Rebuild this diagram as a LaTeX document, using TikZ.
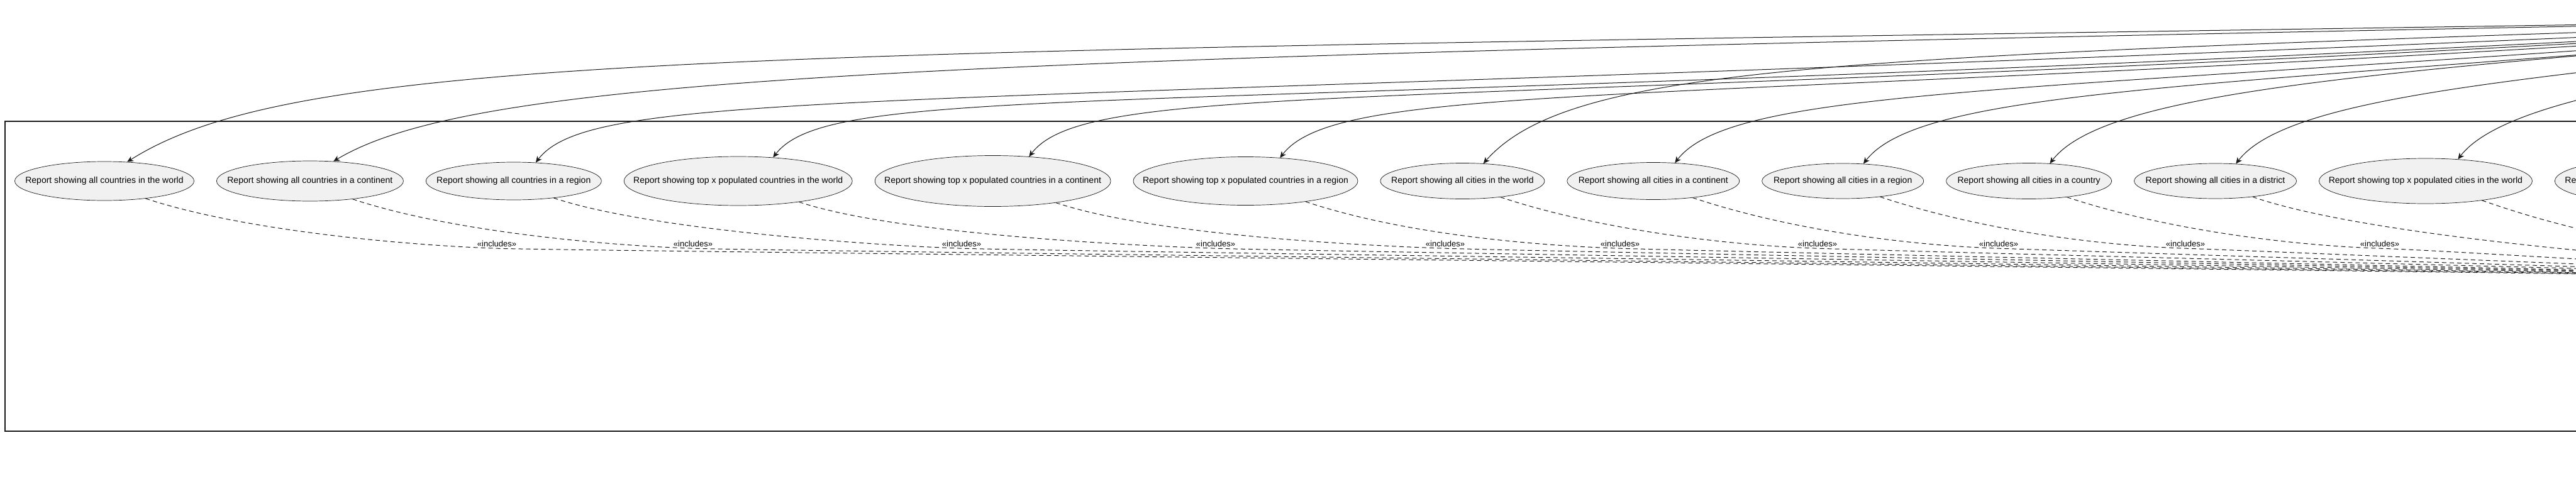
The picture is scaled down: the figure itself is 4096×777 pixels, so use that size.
\documentclass[tikz,border=0pt]{standalone}
\usepackage{fontspec}
\setmainfont{Liberation Sans}
\usetikzlibrary{calc,arrows.meta,positioning,shapes.geometric}
\definecolor{inkx}{HTML}{181818}
\definecolor{ucfill}{HTML}{F1F1F1}
\tikzset{
  uc/.style={ellipse,draw=inkx,line width=0.35pt,fill=ucfill,inner sep=0pt,font=\fontsize{7pt}{8pt}\selectfont},
  ar/.style={-{Stealth[length=5pt,width=4.5pt,inset=1.5pt]},line width=0.5pt,inkx},
  incl/.style={line width=0.5pt,inkx,dash pattern=on 3.5pt off 2.5pt},
  lbl/.style={font=\fontsize{6.5pt}{7.5pt}\selectfont,inner sep=1pt}
}
\newcommand{\ucbox}[1]{\makebox[0pt]{#1}}

\begin{document}
\begin{tikzpicture}[x=0.5pt,y=-0.5pt]
\clip (0,0) rectangle (4096,777);
% system boundary
\draw[line width=0.75pt,inkx] (4200,193) -- (8,193) -- (8,686) -- (4200,686);
\coordinate (user) at (4800,28);
\coordinate (incBase) at (5000,450);
% use cases
\node[uc,minimum width=142.5pt,minimum height=31pt] (cntWorld) at (166,288) {\ucbox{Report showing all countries in the world}};
\node[uc,minimum width=148.5pt,minimum height=32pt,right=17.6pt of cntWorld] (cntCont) {\ucbox{Report showing all countries in a continent}};
\node[uc,minimum width=139.5pt,minimum height=30pt,right=17.6pt of cntCont] (cntReg) {\ucbox{Report showing all countries in a region}};
\node[uc,minimum width=181.5pt,minimum height=39pt,right=17.6pt of cntReg] (topCntWorld) {\ucbox{Report showing top x populated countries in the world}};
\node[uc,minimum width=187.5pt,minimum height=40.5pt,right=17.6pt of topCntWorld] (topCntCont) {\ucbox{Report showing top x populated countries in a continent}};
\node[uc,minimum width=178.5pt,minimum height=38.5pt,right=17.6pt of topCntCont] (topCntReg) {\ucbox{Report showing top x populated countries in a region}};
\node[uc,minimum width=130.5pt,minimum height=28.5pt,right=17.6pt of topCntReg] (cityWorld) {\ucbox{Report showing all cities in the world}};
\node[uc,minimum width=137pt,minimum height=29.5pt,right=17.6pt of cityWorld] (cityCont) {\ucbox{Report showing all cities in a continent}};
\node[uc,minimum width=128.5pt,minimum height=28pt,right=17.6pt of cityCont] (cityReg) {\ucbox{Report showing all cities in a region}};
\node[uc,minimum width=131.5pt,minimum height=28.5pt,right=17.6pt of cityReg] (cityCountry) {\ucbox{Report showing all cities in a country}};
\node[uc,minimum width=129pt,minimum height=28pt,right=17.6pt of cityCountry] (cityDist) {\ucbox{Report showing all cities in a district}};
\node[uc,minimum width=169.5pt,minimum height=36pt,right=17.6pt of cityDist] (topCityWorld) {\ucbox{Report showing top x populated cities in the world}};
\node[uc,minimum width=176pt,minimum height=37pt,right=17.6pt of topCityWorld] (topCityCont) {\ucbox{Report showing top x populated cities in a continent}};
% actor links
\draw[ar] (user) .. controls (1303,87) and +(300,-190) .. (cntWorld.40);
\draw[ar] (user) .. controls (1629,90) and +(250,-150) .. (cntCont.40);
\draw[ar] (user) .. controls (1500,182) and +(100,-130) .. (cntReg.40);
\draw[ar] (user) .. controls (1877,195) and +(100,-130) .. (topCntWorld.34);
\draw[ar] (user) .. controls (2285,185) and +(100,-130) .. (topCntCont.34);
\draw[ar] (user) .. controls (2684,175) and +(100,-130) .. (topCntReg.34);
\draw[ar] (user) .. controls (3002,90) and +(150,-170) .. (cityWorld.40);
\draw[ar] (user) .. controls (3306,150) and +(100,-130) .. (cityCont.40);
\draw[ar] (user) .. controls (3603,140) and +(100,-130) .. (cityReg.40);
\draw[ar] (user) .. controls (3898,110) and +(100,-130) .. (cityCountry.40);
\draw[ar] (user) .. controls (4194,120) and +(100,-130) .. (cityDist.40);
\draw[ar] (user) .. controls (4551,99) and +(100,-130) .. (topCityWorld.34);
% includes labels
\node[lbl] (inc1) at (790,388) {«includes»};
\node[lbl] (inc2) at (1102,388) {«includes»};
\node[lbl] (inc3) at (1529,388) {«includes»};
\node[lbl] (inc4) at (1933,388) {«includes»};
\node[lbl] (inc5) at (2298,388) {«includes»};
\node[lbl] (inc6) at (2576,388) {«includes»};
\node[lbl] (inc7) at (2890,388) {«includes»};
\node[lbl] (inc8) at (3178,388) {«includes»};
\node[lbl] (inc9) at (3475,388) {«includes»};
\node[lbl] (inc10) at (3784,388) {«includes»};
% includes links
\draw[incl] (cntWorld.-23) .. controls +(150,50) and +(-150,-5) .. (inc1.south) .. controls +(150,5) and +(-600,-15) .. (incBase);
\draw[incl] (cntCont.-23) .. controls +(150,50) and +(-150,-5) .. (inc2.south) .. controls +(150,5) and +(-600,-15) .. (incBase);
\draw[incl] (cntReg.-23) .. controls +(150,50) and +(-150,-5) .. (inc3.south) .. controls +(150,5) and +(-600,-15) .. (incBase);
\draw[incl] (topCntWorld.-19) .. controls +(150,50) and +(-150,-5) .. (inc4.south) .. controls +(150,5) and +(-600,-15) .. (incBase);
\draw[incl] (topCntCont.-19) .. controls +(150,50) and +(-150,-5) .. (inc5.south) .. controls +(150,5) and +(-600,-15) .. (incBase);
\draw[incl] (topCntReg.-19) .. controls +(150,50) and +(-150,-5) .. (inc6.south) .. controls +(150,5) and +(-600,-15) .. (incBase);
\draw[incl] (cityWorld.-23) .. controls +(150,50) and +(-150,-5) .. (inc7.south) .. controls +(150,5) and +(-600,-15) .. (incBase);
\draw[incl] (cityCont.-23) .. controls +(150,50) and +(-150,-5) .. (inc8.south) .. controls +(150,5) and +(-600,-15) .. (incBase);
\draw[incl] (cityReg.-23) .. controls +(150,50) and +(-150,-5) .. (inc9.south) .. controls +(150,5) and +(-600,-15) .. (incBase);
\draw[incl] (cityCountry.-23) .. controls +(150,50) and +(-150,-5) .. (inc10.south) .. controls +(150,5) and +(-600,-15) .. (incBase);
\draw[incl] (cityDist.-23) .. controls +(200,70) and +(-600,-15) .. (incBase);
\draw[incl] (topCityWorld.-19) .. controls +(200,70) and +(-600,-15) .. (incBase);
\end{tikzpicture}
\end{document}
